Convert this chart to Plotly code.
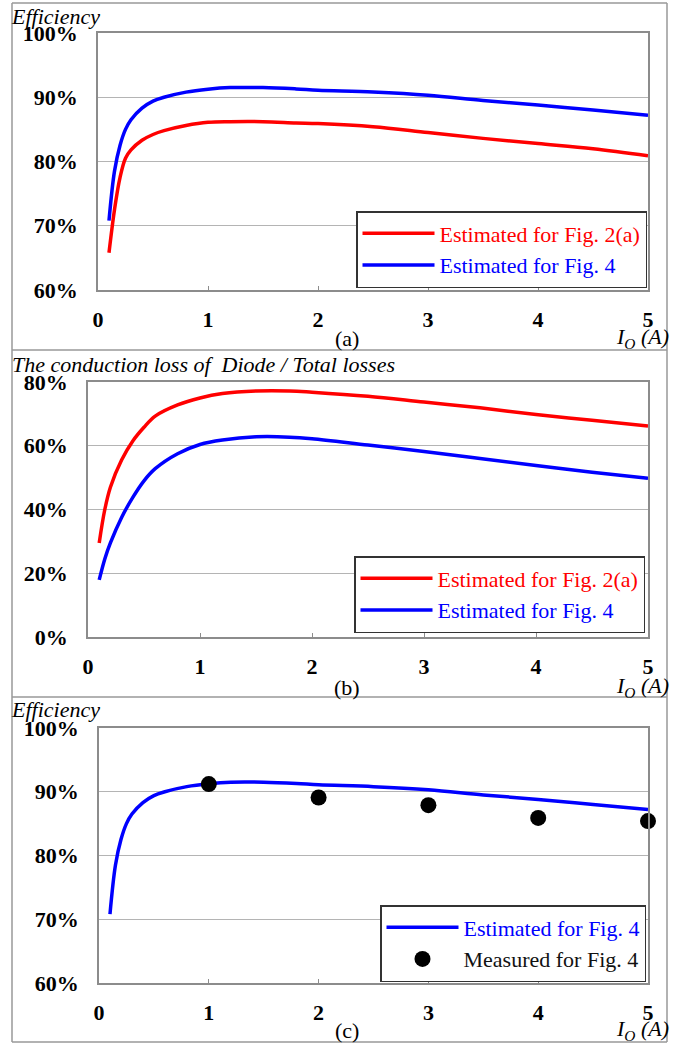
import plotly.graph_objects as go

W, H = 681, 1044

# ---------------- data ----------------
# (a) efficiency vs output current
x_a = [0.1, 0.15, 0.2, 0.25, 0.3, 0.4, 0.5, 0.6, 0.8, 1.0, 1.2, 1.5, 1.8, 2.0, 2.5, 3.0, 3.5, 4.0, 4.5, 5.0]
eff_fig2a = [65.8, 72.5, 77.5, 80.5, 81.8, 83.3, 84.2, 84.8, 85.6, 86.1, 86.2, 86.2, 86.0, 85.9, 85.4, 84.5, 83.6, 82.8, 82.0, 80.9]
eff_fig4 = [70.8, 78.5, 82.5, 85.0, 86.5, 88.3, 89.4, 90.0, 90.8, 91.25, 91.5, 91.5, 91.3, 91.1, 90.8, 90.3, 89.5, 88.8, 88.0, 87.2]

# (b) diode conduction loss / total losses
x_b = [0.1, 0.15, 0.2, 0.3, 0.4, 0.5, 0.6, 0.8, 1.0, 1.2, 1.5, 1.8, 2.0, 2.5, 3.0, 3.5, 4.0, 4.5, 5.0]
ratio_fig2a = [29.5, 40.0, 47.0, 55.5, 61.5, 65.8, 69.3, 72.8, 75.0, 76.4, 77.2, 77.2, 76.8, 75.5, 73.7, 71.9, 69.8, 68.0, 66.2]
ratio_fig4 = [17.9, 24.5, 29.5, 37.5, 43.8, 49.0, 52.8, 57.5, 60.4, 61.8, 62.8, 62.7, 62.2, 60.2, 58.2, 56.0, 53.8, 51.7, 49.8]

# (c) measured efficiency
x_meas = [1, 2, 3, 4, 5]
eff_meas = [91.2, 89.1, 87.9, 85.9, 85.4]

x_ticks = [0, 1, 2, 3, 4, 5]
y_ticks_eff = [60, 70, 80, 90, 100]
y_ticks_ratio = [0, 20, 40, 60, 80]

name_red = "Estimated for Fig. 2(a)"
name_blue = "Estimated for Fig. 4"
name_meas = "Measured for Fig. 4"

# ---------------- style ----------------
SERIF = "Liberation Serif"
RED = "#ff0000"
BLUE = "#0000ff"
AXC = "#8c8c8c"
GRIDC = "#b4b4b4"
FS = 22


def px(x):
    return x / W


def py(y):
    return 1 - y / H


fig = go.Figure()

# panel a
fig.add_trace(go.Scatter(x=x_a, y=eff_fig2a, mode="lines", line=dict(color=RED, width=3.5, shape="spline"),
                         name=f"<span style='color:{RED}'>{name_red}</span>", xaxis="x", yaxis="y", legend="legend"))
fig.add_trace(go.Scatter(x=x_a, y=eff_fig4, mode="lines", line=dict(color=BLUE, width=3.5, shape="spline"),
                         name=f"<span style='color:{BLUE}'>{name_blue}</span>", xaxis="x", yaxis="y", legend="legend"))
# panel b
fig.add_trace(go.Scatter(x=x_b, y=ratio_fig2a, mode="lines", line=dict(color=RED, width=3.5, shape="spline"),
                         name=f"<span style='color:{RED}'>{name_red}</span>", xaxis="x2", yaxis="y2", legend="legend2"))
fig.add_trace(go.Scatter(x=x_b, y=ratio_fig4, mode="lines", line=dict(color=BLUE, width=3.5, shape="spline"),
                         name=f"<span style='color:{BLUE}'>{name_blue}</span>", xaxis="x2", yaxis="y2", legend="legend2"))
# panel c
fig.add_trace(go.Scatter(x=x_a, y=eff_fig4, mode="lines", line=dict(color=BLUE, width=3.5, shape="spline"),
                         name=f"<span style='color:{BLUE}'>{name_blue}</span>", xaxis="x3", yaxis="y3", legend="legend3"))
fig.add_trace(go.Scatter(x=x_meas, y=eff_meas, mode="markers", marker=dict(color="black", size=16),
                         cliponaxis=False,
                         name=f"<span style='color:#111'>{name_meas}</span>", xaxis="x3", yaxis="y3", legend="legend3"))

common_x = dict(range=[0, 5], tickvals=x_ticks, ticktext=[f"<b>{t}</b>" for t in x_ticks],
                showline=True, linecolor=AXC, linewidth=1.5, mirror=True, showgrid=False,
                ticks="inside", ticklen=4, tickcolor=AXC, zeroline=False, automargin=False,
                tickfont=dict(family=SERIF, size=FS, color="black"), ticklabelstandoff=9, fixedrange=True)
common_y = dict(showline=True, linecolor=AXC, linewidth=1.5, mirror=True, showgrid=True, gridcolor=GRIDC,
                gridwidth=1.2, ticks="", zeroline=False, automargin=False,
                tickfont=dict(family=SERIF, size=FS, color="black"), ticklabelstandoff=14, fixedrange=True)

legend_common = dict(font=dict(family=SERIF, size=FS, color="black"), bgcolor="white",
                     bordercolor="#333333", borderwidth=1.5, itemwidth=72, tracegroupgap=0,
                     xanchor="right", yanchor="bottom", itemclick=False, itemdoubleclick=False)

fig.update_layout(
    width=W, height=H, margin=dict(l=0, r=0, t=0, b=0, autoexpand=False),
    paper_bgcolor="white", plot_bgcolor="white",
    xaxis=dict(common_x, domain=[px(98), px(648)], anchor="y"),
    yaxis=dict(common_y, domain=[py(290), py(33)], range=[60, 100], anchor="x",
               tickvals=y_ticks_eff, ticktext=[f"<b>{t}%</b>" for t in y_ticks_eff]),
    xaxis2=dict(common_x, domain=[px(88), px(648)], anchor="y2"),
    yaxis2=dict(common_y, domain=[py(637), py(382)], range=[0, 80], anchor="x2",
                tickvals=y_ticks_ratio, ticktext=[f"<b>{t}%</b>" for t in y_ticks_ratio]),
    xaxis3=dict(common_x, domain=[px(99), px(648)], anchor="y3"),
    yaxis3=dict(common_y, domain=[py(983), py(728)], range=[60, 100], anchor="x3",
                tickvals=y_ticks_eff, ticktext=[f"<b>{t}%</b>" for t in y_ticks_eff]),
    legend=dict(legend_common, x=px(647), y=py(288)),
    legend2=dict(legend_common, x=px(645), y=py(633)),
    legend3=dict(legend_common, x=px(646), y=py(982)),
    showlegend=True,
)

# outer frames of the three panels
frame = dict(type="line", xref="paper", yref="paper", line=dict(color="#999999", width=1.5))
shapes = []
for yy in [3, 350, 697, 1042]:
    shapes.append(dict(frame, x0=px(12), x1=px(667), y0=py(yy), y1=py(yy)))
for xx in [12, 667]:
    shapes.append(dict(frame, x0=px(xx), x1=px(xx), y0=py(3), y1=py(1042)))
fig.update_layout(shapes=shapes)

ann_font = dict(family=SERIF, size=FS, color="black")
annotations = [
    dict(text="<i>Efficiency</i>", x=px(9), y=py(16)),
    dict(text="<i>The conduction loss of \u00a0Diode / Total losses</i>", x=px(10), y=py(365)),
    dict(text="<i>Efficiency</i>", x=px(9), y=py(709)),
]
annotations = [dict(a, xref="paper", yref="paper", xanchor="left", yanchor="middle", showarrow=False, font=ann_font)
               for a in annotations]
for lab, yy in [("(a)", 338), ("(b)", 687), ("(c)", 1030)]:
    annotations.append(dict(text=lab, x=px(347), y=py(yy), xref="paper", yref="paper", xanchor="center",
                            yanchor="middle", showarrow=False, font=ann_font))
    annotations.append(dict(text="<i>I<sub>O</sub> (A)</i>", x=px(671), y=py(yy), xref="paper", yref="paper",
                            xanchor="right", yanchor="middle", showarrow=False, font=ann_font))
fig.update_layout(annotations=annotations)

fig.write_html("out.html")
